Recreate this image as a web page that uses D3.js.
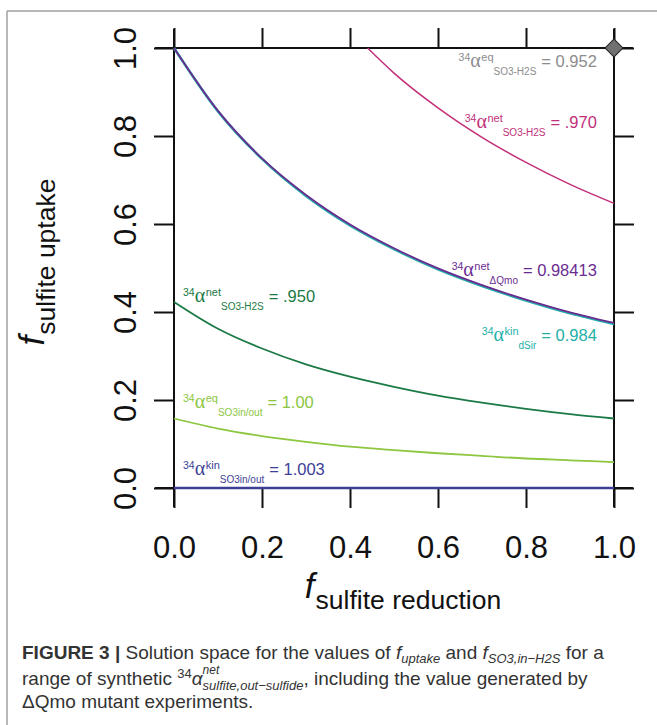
<!DOCTYPE html>
<html><head><meta charset="utf-8">
<script src="https://cdn.jsdelivr.net/npm/d3@7"></script>
<style>body{margin:0;background:#fff} text{white-space:pre}</style>
</head><body>
<svg id="c" width="657" height="725"></svg>
<script>
// ---------------- data ----------------
const xTicks = [0.0, 0.2, 0.4, 0.6, 0.8, 1.0];
const yTicks = [0.0, 0.2, 0.4, 0.6, 0.8, 1.0];
const tickLabels = ["0.0", "0.2", "0.4", "0.6", "0.8", "1.0"];

const fRed = [0.0, 0.1, 0.2, 0.3, 0.4, 0.5, 0.6, 0.7, 0.8, 0.9, 1.0];
const fRed970 = [0.44, 0.5, 0.6, 0.7, 0.8, 0.9, 1.0];

const up970   = [1.000, 0.943, 0.864, 0.797, 0.740, 0.690, 0.647];
const upDsir  = [1.000, 0.856, 0.748, 0.664, 0.597, 0.543, 0.497, 0.459, 0.426, 0.397, 0.373];
const upQmo   = [1.000, 0.857, 0.749, 0.666, 0.599, 0.545, 0.499, 0.461, 0.428, 0.399, 0.375];
const up950   = [0.423, 0.362, 0.317, 0.281, 0.253, 0.230, 0.210, 0.194, 0.180, 0.168, 0.158];
const up100   = [0.158, 0.135, 0.118, 0.105, 0.094, 0.086, 0.079, 0.073, 0.067, 0.063, 0.059];
const up1003  = [0, 0, 0, 0, 0, 0, 0, 0, 0, 0, 0];
const eqPoint = [1.0, 1.0];

const seriesNames = ["eq1.00", "net.950", "net.970", "kin0.984", "net0.98413", "kin1.003"];
const labelSup = ["eq", "net", "net", "kin", "net", "eq", "kin"];
const labelSub = ["SO3-H2S", "SO3-H2S", "ΔQmo", "dSir", "SO3-H2S", "SO3in/out", "SO3in/out"];
const labelVal = ["= 0.952", "= .970", "= 0.98413", "= 0.984", "= .950", "= 1.00", "= 1.003"];

// ---------------- layout ----------------
const svg = d3.select("#c");
const X0 = 174, X1 = 614, Y0 = 488, Y1 = 48;
const x = d3.scaleLinear().domain([0, 1]).range([X0, X1]);
const y = d3.scaleLinear().domain([0, 1]).range([Y0, Y1]);
const ext = 0.043;
const SANS = "Liberation Sans, Arial, Helvetica, sans-serif";
const SERIF = "Liberation Serif, Times New Roman, serif";

// figure frame
svg.append("line").attr("x1", 7).attr("x2", 7).attr("y1", 11).attr("y2", 725)
  .attr("stroke", "#a0a0a0").attr("stroke-width", 1.5);
svg.append("line").attr("x1", 7).attr("x2", 657).attr("y1", 11).attr("y2", 11)
  .attr("stroke", "#a0a0a0").attr("stroke-width", 1.5);

// rich text helper
function rich(parent, px, py, segs, anchor, rotate) {
  const g = parent.append("g");
  let cx = 0, prevStart = 0;
  segs.forEach(s => {
    const start = s.stack ? prevStart : cx + (s.gap || 0);
    const t = g.append("text").attr("x", start).attr("y", s.dy || 0)
      .attr("font-size", s.size).attr("font-family", s.family || SANS)
      .attr("font-style", s.italic ? "italic" : null)
      .attr("font-weight", s.bold ? "bold" : null)
      .attr("fill", s.color).text(s.t);
    const w = t.node().getComputedTextLength();
    cx = Math.max(cx, start + w);
    prevStart = start;
  });
  const shift = anchor === "end" ? -cx : anchor === "middle" ? -cx / 2 : 0;
  g.attr("transform", `translate(${px},${py})` + (rotate ? ` rotate(${rotate})` : "") + ` translate(${shift},0)`);
  return g;
}

// axes lines (four sides)
const axG = svg.append("g").attr("stroke", "#111").attr("stroke-width", 2);
[0, 1].forEach(v => {
  axG.append("line").attr("x1", x(-ext)).attr("x2", x(1 + ext)).attr("y1", y(v)).attr("y2", y(v));
  axG.append("line").attr("y1", y(-ext)).attr("y2", y(1 + ext)).attr("x1", x(v)).attr("x2", x(v));
});

function styleAxis(g) {
  g.select(".domain").remove();
  g.selectAll(".tick line").attr("stroke", "#111").attr("stroke-width", 2);
  g.selectAll(".tick text").attr("font-family", SANS).attr("font-size", 31).attr("fill", "#111");
}
const fmt = (d, i) => tickLabels[i];
svg.append("g").attr("transform", `translate(0,${Y0})`)
  .call(d3.axisBottom(x).tickValues(xTicks).tickFormat(fmt).tickSize(20).tickPadding(28))
  .call(styleAxis);
svg.append("g").attr("transform", `translate(0,${Y1})`)
  .call(d3.axisTop(x).tickValues(xTicks).tickFormat("").tickSize(20)).call(styleAxis);
const yl = svg.append("g").attr("transform", `translate(${X0},0)`)
  .call(d3.axisLeft(y).tickValues(yTicks).tickFormat(fmt).tickSize(20)).call(styleAxis);
yl.selectAll(".tick text").attr("x", null).attr("dy", null).attr("text-anchor", "middle")
  .attr("transform", "translate(-38,0) rotate(-90)");
svg.append("g").attr("transform", `translate(${X1},0)`)
  .call(d3.axisRight(y).tickValues(yTicks).tickFormat("").tickSize(20)).call(styleAxis);

// axis titles
rich(svg, 403, 598, [
  {t: "f", size: 35, italic: true, color: "#111"},
  {t: "sulfite reduction", size: 26.5, dy: 11, color: "#111", gap: 1}
], "middle");
rich(svg, 44, 262, [
  {t: "f", size: 35, italic: true, color: "#111"},
  {t: "sulfite uptake", size: 26.5, dy: 11, color: "#111", gap: 1}
], "middle", -90);

// curves
const colors = {
  "eq0.952": "#8c8c8c", "net.970": "#c2307a", "net0.98413": "#6b2c91",
  "kin0.984": "#22b0a8", "net.950": "#1b7a46", "eq1.00": "#8dc63f", "kin1.003": "#3c3f98"
};
const seriesData = {
  "eq1.00": [fRed, up100], "net.950": [fRed, up950], "net.970": [fRed970, up970],
  "kin0.984": [fRed, upDsir], "net0.98413": [fRed, upQmo], "kin1.003": [fRed, up1003]
};
const line = d3.line().x(d => x(d[0])).y(d => y(d[1])).curve(d3.curveMonotoneX);
seriesNames.forEach(n => {
  const [xs, ys] = seriesData[n];
  svg.append("path").datum(xs.map((v, i) => [v, ys[i]]))
    .attr("d", line).attr("fill", "none").attr("stroke", colors[n])
    .attr("stroke-width", n === "kin1.003" ? 2.5 : n === "kin0.984" ? 2.6 : n === "net.970" ? 1.5 : 1.8);
});

// diamond point
svg.append("path").attr("d", d3.symbol(d3.symbolSquare, 160)())
  .attr("transform", `translate(${x(eqPoint[0])},${y(eqPoint[1])}) rotate(45)`)
  .attr("fill", "#707070").attr("stroke", "#222").attr("stroke-width", 1);

// curve labels
const labelColors = ["eq0.952", "net.970", "net0.98413", "kin0.984", "net.950", "eq1.00", "kin1.003"].map(k => colors[k]);
const labelPos = [[0.961, 0.9575, "end"], [0.961, 0.818, "end"], [0.961, 0.482, "end"], [0.961, 0.334, "end"],
                  [0.0205, 0.4227, "start"], [0.0205, 0.182, "start"], [0.0205, 0.0295, "start"]];
labelVal.forEach((v, i) => {
  const c = labelColors[i];
  const [lx, ly, an] = labelPos[i];
  rich(svg, x(lx), y(ly), [
    {t: "34", size: 10.5, dy: -6, color: c},
    {t: "α", size: 20, family: SERIF, color: c},
    {t: labelSup[i], size: 11, dy: -6, color: c, gap: 0.5},
    {t: labelSub[i], size: 10, dy: 8, color: c},
    {t: v, size: 16.5, color: c, gap: 5}
  ], an);
});

// caption
const CC = "#333";
rich(svg, 22, 659, [
  {t: "FIGURE 3 |", size: 19, bold: true, color: CC},
  {t: " Solution space for the values of ", size: 19, color: CC},
  {t: "f", size: 19, italic: true, color: CC},
  {t: "uptake", size: 13, italic: true, dy: 4, color: CC},
  {t: " and ", size: 19, color: CC},
  {t: "f", size: 19, italic: true, color: CC},
  {t: "SO3,in−H2S", size: 13, italic: true, dy: 4, color: CC},
  {t: " for a", size: 19, color: CC}
], "start");
rich(svg, 22, 685, [
  {t: "range of synthetic ", size: 19, color: CC},
  {t: "34", size: 13, dy: -7, color: CC},
  {t: "α", size: 19, italic: true, color: CC},
  {t: "net", size: 12, italic: true, dy: -11, color: CC},
  {t: "sulfite,out−sulfide", size: 13, italic: true, dy: 5, color: CC, stack: true},
  {t: ", including the value generated by", size: 19, color: CC}
], "start");
rich(svg, 22, 708, [
  {t: "ΔQmo mutant experiments.", size: 19, color: CC}
], "start");
</script>
</body></html>
